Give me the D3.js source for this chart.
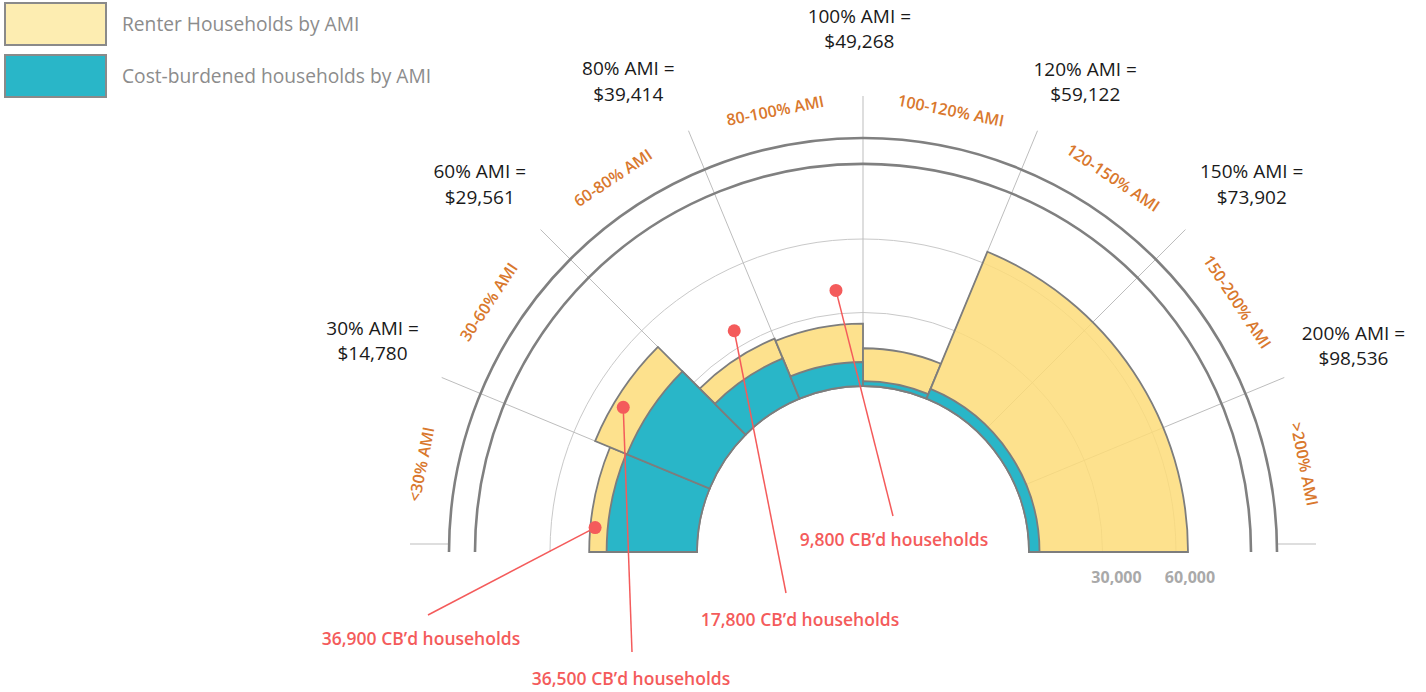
<!DOCTYPE html>
<html>
<head>
<meta charset="utf-8">
<script src="https://cdn.jsdelivr.net/npm/d3@7"></script>
<style>
  body { margin: 0; background: #fff; }
  svg { display: block; font-family: "Open Sans", sans-serif; }
</style>
</head>
<body>
<svg id="chart" width="1426" height="692"></svg>
<script>
// Income bands, left to right round the half circle
const bands = ["<30% AMI", "30-60% AMI", "60-80% AMI", "80-100% AMI",
  "100-120% AMI", "120-150% AMI", "150-200% AMI", ">200% AMI"]

// Renter households in each band
const renters = [44000, 50600, 26500, 25500, 15400, 64900, 64900, 64900]

// Cost-burdened renter households in each band
const costBurdened = [36900, 36500, 17800, 9800, 2000, 4300, 4300, 4300]

// AMI thresholds between the bands
const thresholds = ["30%", "60%", "80%", "100%", "120%", "150%", "200%"]
const thresholdIncome = [14780, 29561, 39414, 49268, 59122, 73902, 98536]

const radialTicks = [30000, 60000]

// Bands that get a red callout
const calloutBands = ["<30% AMI", "30-60% AMI", "60-80% AMI", "80-100% AMI"]

// ---- layout ----
const cx = 863, cy = 552
const innerRadius = 166
const lineEnd = 456
const ringRadii = [388, 414]

// threshold labels: [angle deg, radius]
const thresholdLabelPos = [[-66.7, 534], [-46.2, 531], [-26.5, 526], [-0.4, 523],
  [25.3, 520], [46.6, 535], [67.2, 532]]

// callouts: dot [deg from left baseline, radius], line end and label relative to centre
const calloutPos = [
  { dot: [5.2, 269], end: [-435, 63], label: [-442, 93] },
  { dot: [31.1, 280], end: [-231, 100], label: [-232, 133] },
  { dot: [59.8, 256], end: [-77, 41], label: [-63, 74] },
  { dot: [84.1, 263], end: [30, -36], label: [31, -6] },
]

const svg = d3.select("#chart")

const x = d3.scaleBand().domain(bands).range([-Math.PI / 2, Math.PI / 2])
const y = d3.scaleLinear().domain([0, 60000]).range([innerRadius, 313])

const polar = (a, r) => [r * Math.sin(a), -r * Math.cos(a)]
const rad = deg => deg * Math.PI / 180

// merge neighbouring bands with the same value into one bar
function runs(values) {
  const out = []
  values.forEach((v, i) => {
    const last = out[out.length - 1]
    if (last && last.value === v) last.end = i
    else out.push({ start: i, end: i, value: v })
  })
  return out
}

function halfCircle(r) {
  const p = d3.path()
  p.arc(0, 0, r, Math.PI, 0)
  return p.toString()
}

const g = svg.append("g").attr("transform", `translate(${cx},${cy})`)

// concentric grid
g.selectAll(".grid")
  .data(radialTicks)
  .join("path")
  .attr("d", d => halfCircle(y(d)))
  .attr("fill", "none")
  .attr("stroke", "#c9c9c9")
  .attr("stroke-width", 1)

// threshold spokes
const thresholdAngles = thresholds.map((t, i) => x(bands[i + 1]))
g.selectAll(".spoke")
  .data(thresholdAngles)
  .join("line")
  .attr("x1", a => polar(a, innerRadius)[0])
  .attr("y1", a => polar(a, innerRadius)[1])
  .attr("x2", a => polar(a, lineEnd)[0])
  .attr("y2", a => polar(a, lineEnd)[1])
  .attr("stroke", "#bdbdbd")
  .attr("stroke-width", 1)

// short base lines at both ends
g.selectAll(".base")
  .data(x.range())
  .join("line")
  .attr("x1", a => polar(a, ringRadii[1])[0])
  .attr("x2", a => polar(a, lineEnd - 3)[0])
  .attr("y1", -8)
  .attr("y2", -8)
  .attr("stroke", "#bdbdbd")
  .attr("stroke-width", 1)

const arc = d3.arc()
  .innerRadius(innerRadius)
  .outerRadius(d => y(d.value))
  .startAngle(d => x(bands[d.start]))
  .endAngle(d => x(bands[d.end]) + x.bandwidth())

g.selectAll(".renter")
  .data(runs(renters))
  .join("path")
  .attr("d", arc)
  .attr("fill", "#fddc79")
  .attr("fill-opacity", 0.85)
  .attr("stroke", "#7d7d7d")
  .attr("stroke-width", 1.8)

g.selectAll(".cb")
  .data(runs(costBurdened))
  .join("path")
  .attr("d", arc)
  .attr("fill", "#29b6c8")
  .attr("stroke", "#7d7d7d")
  .attr("stroke-width", 1.8)

// outer rings
g.selectAll(".ring")
  .data(ringRadii)
  .join("path")
  .attr("d", d => halfCircle(d))
  .attr("fill", "none")
  .attr("stroke", "#808080")
  .attr("stroke-width", 2.6)

// band labels along the rim
g.selectAll(".band")
  .data(bands)
  .join("text")
  .attr("transform", d => {
    const a = x(d) + x.bandwidth() / 2
    const [px, py] = polar(a, 450)
    return `translate(${px},${py}) rotate(${a * 180 / Math.PI})`
  })
  .attr("text-anchor", "middle")
  .attr("dy", "0.35em")
  .attr("fill", "#d9782d")
  .style("font-size", "16px")
  .style("font-weight", 600)
  .text(d => d)

// threshold labels
const fmtMoney = d3.format("$,")
g.selectAll(".tlabel")
  .data(thresholds)
  .join("text")
  .attr("text-anchor", "middle")
  .attr("fill", "#1a1a1a")
  .style("font-size", "19px")
  .each(function (d, i) {
    const [deg, r] = thresholdLabelPos[i]
    const [px, py] = polar(rad(deg), r)
    const t = d3.select(this)
    t.append("tspan").attr("x", px).attr("y", py - 12.7).attr("dy", "0.35em").text(`${d} AMI =`)
    t.append("tspan").attr("x", px).attr("y", py + 12.7).attr("dy", "0.35em").text(fmtMoney(thresholdIncome[i]))
  })

// radial axis labels
g.selectAll(".tick")
  .data(radialTicks)
  .join("text")
  .attr("x", d => y(d) + 14)
  .attr("y", 31)
  .attr("text-anchor", "middle")
  .attr("fill", "#a9a9a9")
  .style("font-size", "16px")
  .style("font-weight", 700)
  .text(d3.format(","))

// callouts
const red = "#f45b5b"
const callouts = calloutBands.map((b, i) => ({
  value: costBurdened[bands.indexOf(b)],
  pos: calloutPos[i],
}))
const dotXY = d => polar(rad(-90 + d.pos.dot[0]), d.pos.dot[1])

const co = g.selectAll(".callout").data(callouts).join("g")
co.append("line")
  .attr("x1", d => dotXY(d)[0])
  .attr("y1", d => dotXY(d)[1])
  .attr("x2", d => d.pos.end[0])
  .attr("y2", d => d.pos.end[1])
  .attr("stroke", red)
  .attr("stroke-width", 1.5)
co.append("circle")
  .attr("cx", d => dotXY(d)[0])
  .attr("cy", d => dotXY(d)[1])
  .attr("r", 6.5)
  .attr("fill", red)
co.append("text")
  .attr("x", d => d.pos.label[0])
  .attr("y", d => d.pos.label[1])
  .attr("text-anchor", "middle")
  .attr("fill", red)
  .style("font-size", "17.5px")
  .style("font-weight", 600)
  .text(d => `${d3.format(",")(d.value)} CB’d households`)

// legend
const legendItems = ["Renter Households by AMI", "Cost-burdened households by AMI"]
const legendColors = ["#fdedb1", "#29b6c8"]
const lg = svg.append("g").selectAll("g").data(legendItems).join("g")
  .attr("transform", (d, i) => `translate(5,${3 + i * 52})`)
lg.append("rect")
  .attr("width", 101)
  .attr("height", 42)
  .attr("fill", (d, i) => legendColors[i])
  .attr("stroke", "#8a8a8a")
  .attr("stroke-width", 2)
lg.append("text")
  .attr("x", 117)
  .attr("y", 28)
  .attr("fill", "#8c8c8c")
  .style("font-size", "19.2px")
  .style("font-weight", 400)
  .text(d => d)
</script>
</body>
</html>
